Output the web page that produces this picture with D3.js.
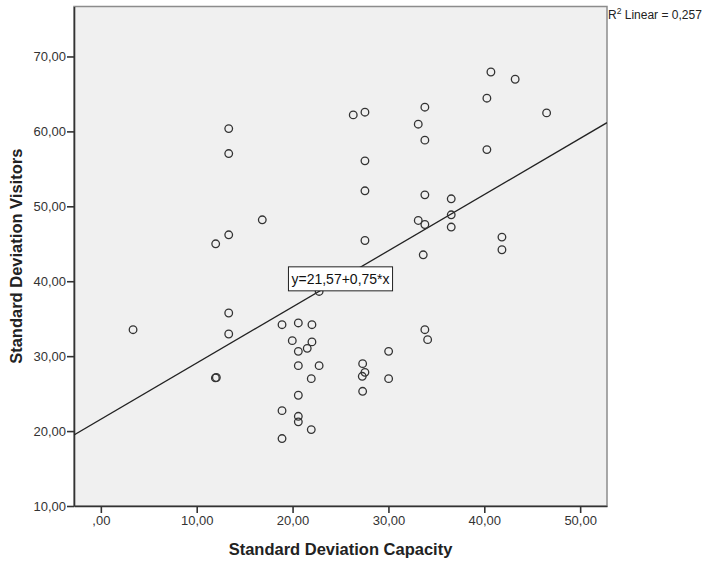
<!DOCTYPE html>
<html>
<head>
<meta charset="utf-8">
<script src="https://cdn.jsdelivr.net/npm/d3@7"></script>
<style>
    body { margin: 0; background: #fff; }
    svg { display: block; font-family: Arial, "Liberation Sans", sans-serif; }
</style>
</head>
<body>
<svg id="chart"></svg>
<script>
var width = 704
var height = 563
var margin = { top: 6.5, right: 97, bottom: 57, left: 74 }

// data
var capacity = [3.36, 11.98, 11.95, 12.05, 13.34, 13.34, 13.34, 13.34, 13.34, 16.84,
    18.9, 18.9, 18.9, 19.97, 20.6, 20.6, 20.6, 20.6, 20.6, 20.6,
    21.53, 22.02, 22.02, 22.77, 22.77, 21.95, 21.95, 26.33, 27.55, 27.55,
    27.55, 27.55, 27.31, 27.55, 27.27, 27.31, 30.02, 30.02, 33.8, 33.11,
    33.8, 33.8, 33.11, 33.8, 33.63, 33.8, 34.09, 36.55, 36.55, 36.55,
    40.69, 40.27, 40.27, 43.22, 46.5, 41.84, 41.84]
var visitors = [33.53, 45.0, 27.1, 27.15, 60.37, 57.04, 46.2, 35.76, 32.96, 48.2,
    34.2, 22.73, 19.0, 32.07, 34.43, 30.64, 28.73, 24.78, 21.97, 21.23,
    31.04, 34.2, 31.9, 38.64, 28.73, 27.0, 20.2, 62.2, 62.56, 56.07,
    52.07, 45.44, 29.0, 27.84, 27.31, 25.31, 30.64, 27.0, 63.23, 60.96,
    58.83, 51.53, 48.11, 47.57, 43.53, 33.53, 32.2, 51.0, 48.87, 47.23,
    67.93, 64.43, 57.57, 66.96, 62.47, 45.89, 44.2]
var xTicks = [0, 10, 20, 30, 40, 50]
var yTicks = [10, 20, 30, 40, 50, 60, 70]
var fitIntercept = 21.57
var fitSlope = 0.75
var rSquared = 0.257

// SPSS style numbers with decimal comma, zero tick is shown as ,00
function spss(v, n) {
    var s = v.toFixed(n).replace('.', ',')
    if (v == 0) s = s.slice(1)
    return s
}

var svg = d3.select("#chart").attr("width", width).attr("height", height)

var xScale = d3.scaleLinear()
    .domain([-2.8, 52.8])
    .range([margin.left, width - margin.right])
var yScale = d3.scaleLinear()
    .domain([10, 76.67])
    .range([height - margin.bottom, margin.top])

var x0 = margin.left, x1 = width - margin.right
var y0 = margin.top, y1 = height - margin.bottom

// plot background and frame
svg.append("rect")
    .attr("x", x0).attr("y", y0)
    .attr("width", x1 - x0).attr("height", y1 - y0)
    .attr("fill", "#f0f0f0")
    .attr("stroke", "#8c8c8c")
    .attr("stroke-width", 1.5)

svg.append("clipPath").attr("id", "plotClip")
    .append("rect")
    .attr("x", x0).attr("y", y0)
    .attr("width", x1 - x0).attr("height", y1 - y0)

// axes
var xAxis = d3.axisBottom(xScale).tickValues(xTicks).tickSize(7).tickSizeOuter(0)
    .tickFormat(function (d) { return spss(d, 2) })
var yAxis = d3.axisLeft(yScale).tickValues(yTicks).tickSize(7).tickSizeOuter(0)
    .tickFormat(function (d) { return spss(d, 2) })

svg.append("g")
    .attr("class", "xAxis")
    .attr("transform", "translate(0," + y1 + ")")
    .call(xAxis)
svg.append("g")
    .attr("class", "yAxis")
    .attr("transform", "translate(" + x0 + ",0)")
    .call(yAxis)

svg.selectAll(".xAxis path, .yAxis path").attr("stroke", "#333").attr("stroke-width", 1.6)
svg.selectAll(".xAxis line, .yAxis line").attr("stroke", "#333").attr("stroke-width", 1.6)
svg.selectAll(".xAxis text, .yAxis text")
    .attr("fill", "#333")
    .style("font-size", "13px")
svg.selectAll(".xAxis text").attr("y", 10)
svg.selectAll(".yAxis text").attr("x", -8)

// axis titles
svg.append("text")
    .attr("x", (x0 + x1) / 2)
    .attr("y", 555)
    .attr("text-anchor", "middle")
    .style("font-size", "16.5px")
    .style("font-weight", "bold")
    .attr("fill", "#222")
    .text("Standard Deviation Capacity")
svg.append("text")
    .attr("transform", "translate(22," + ((y0 + y1) / 2) + ") rotate(-90)")
    .attr("text-anchor", "middle")
    .style("font-size", "16.5px")
    .style("font-weight", "bold")
    .attr("fill", "#222")
    .text("Standard Deviation Visitors")

// fit line
var dom = xScale.domain()
svg.append("line")
    .attr("clip-path", "url(#plotClip)")
    .attr("x1", xScale(dom[0])).attr("y1", yScale(fitIntercept + fitSlope * dom[0]))
    .attr("x2", xScale(dom[1])).attr("y2", yScale(fitIntercept + fitSlope * dom[1]))
    .attr("stroke", "#222")
    .attr("stroke-width", 1.3)

// points
svg.append("g").selectAll("circle")
    .data(capacity)
    .enter()
    .append("circle")
    .attr("cx", function (d) { return xScale(d) })
    .attr("cy", function (d, i) { return yScale(visitors[i]) })
    .attr("r", 3.8)
    .attr("fill", "none")
    .attr("stroke", "#333")
    .attr("stroke-width", 1.3)

// equation label, centred on the line at x = 25
var lx = xScale(25), ly = yScale(fitIntercept + fitSlope * 25)
var eq = svg.append("g")
var eqText = eq.append("text")
    .attr("x", lx).attr("y", ly + 5)
    .attr("text-anchor", "middle")
    .style("font-size", "14px")
    .attr("fill", "#111")
    .text("y=" + spss(fitIntercept, 2) + "+" + spss(fitSlope, 2) + "*x")
var bb = eqText.node().getBBox()
eq.insert("rect", "text")
    .attr("x", bb.x - 3).attr("y", ly - 12)
    .attr("width", bb.width + 6).attr("height", 24)
    .attr("fill", "#fff")
    .attr("stroke", "#222")
    .attr("stroke-width", 1)

// R squared note, kept inside the page
var r2 = svg.append("text")
    .attr("x", x1 + 1).attr("y", 19)
    .style("font-size", "12px")
    .attr("fill", "#222")
r2.append("tspan").text("R")
r2.append("tspan").attr("dy", -5).style("font-size", "8.5px").text("2")
r2.append("tspan").attr("dy", 5).text(" Linear = " + spss(rSquared, 3))
var rw = r2.node().getBBox().width
if (x1 + 1 + rw > width - 1) {
    r2.attr("textLength", width - 2 - x1).attr("lengthAdjust", "spacingAndGlyphs")
}
</script>
</body>
</html>
